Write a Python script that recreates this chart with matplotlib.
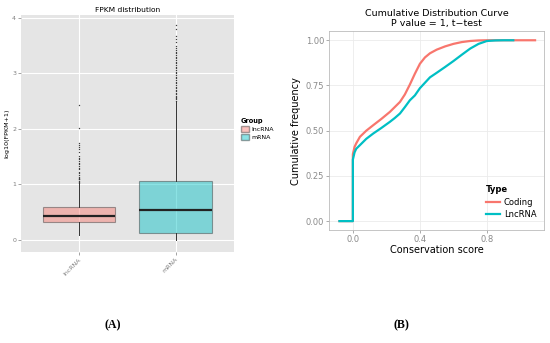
import matplotlib
matplotlib.use("Agg")
import matplotlib.pyplot as plt
from matplotlib.patches import Patch

# ---------------- data ----------------
groups = ["lncRNA", "mRNA"]
q1 = [0.33, 0.12]
med = [0.43, 0.53]
q3 = [0.60, 1.07]
whislo = [0.09, 0.00]
whishi = [1.02, 2.50]
lnc_outliers = [1.03, 1.05, 1.07, 1.09, 1.10, 1.12, 1.14, 1.17, 1.20, 1.23, 1.27,
                1.30, 1.33, 1.36, 1.39, 1.42, 1.45, 1.48, 1.52, 1.58, 1.63, 1.68,
                1.71, 1.74, 2.02, 2.43]
mrna_outliers = [2.51, 2.53, 2.55, 2.57, 2.60, 2.62, 2.65, 2.68, 2.70, 2.73, 2.76,
                 2.79, 2.82, 2.85, 2.88, 2.91, 2.94, 2.97, 3.00, 3.03, 3.06, 3.09,
                 3.12, 3.15, 3.18, 3.21, 3.24, 3.27, 3.30, 3.33, 3.36, 3.39, 3.42,
                 3.45, 3.50, 3.56, 3.62, 3.68, 3.80, 3.87]

coding_x = [-0.08, 0.0, 0.0, 0.01, 0.02, 0.042, 0.08, 0.121, 0.17, 0.221, 0.281,
            0.31, 0.34, 0.37, 0.40, 0.43, 0.46, 0.50, 0.55, 0.60, 0.65, 0.70,
            0.75, 0.80, 0.90, 1.00, 1.087]
coding_y = [0.0, 0.0, 0.37, 0.41, 0.43, 0.466, 0.50, 0.53, 0.565, 0.604, 0.659,
            0.70, 0.755, 0.815, 0.87, 0.905, 0.928, 0.948, 0.966, 0.98, 0.99, 0.996,
            0.999, 1.0, 1.0, 1.0, 1.0]
lnc_x = [-0.08, 0.0, 0.0, 0.01, 0.02, 0.042, 0.08, 0.121, 0.17, 0.221, 0.25,
         0.281, 0.31, 0.34, 0.37, 0.40, 0.43, 0.46, 0.50, 0.55, 0.60, 0.65,
         0.70, 0.75, 0.80, 0.85, 0.90, 0.957]
lnc_y = [0.0, 0.0, 0.34, 0.38, 0.40, 0.42, 0.455, 0.484, 0.515, 0.549, 0.57,
         0.595, 0.63, 0.668, 0.695, 0.735, 0.765, 0.795, 0.82, 0.852, 0.885, 0.92,
         0.954, 0.98, 0.996, 0.999, 1.0, 1.0]

red = "#F8766D"
teal = "#00BFC4"

fig = plt.figure(figsize=(5.5, 3.43), dpi=100)
fig.patch.set_facecolor("white")

# ---------------- panel A ----------------
ax1 = fig.add_axes([0.038, 0.265, 0.387, 0.691])
ax1.set_facecolor("#E5E5E5")
for s in ax1.spines.values():
    s.set_visible(False)
ax1.grid(True, color="white", linewidth=0.8)
ax1.set_axisbelow(True)

stats = []
for i, g in enumerate(groups):
    stats.append(dict(label=g, q1=q1[i], med=med[i], q3=q3[i],
                      whislo=whislo[i], whishi=whishi[i],
                      fliers=[lnc_outliers, mrna_outliers][i]))
bp = ax1.bxp(stats, positions=[1, 2], widths=0.75, patch_artist=True,
             showcaps=False,
             boxprops=dict(edgecolor="#333333", linewidth=0.8),
             whiskerprops=dict(color="#333333", linewidth=0.7),
             medianprops=dict(color="#222222", linewidth=1.6),
             flierprops=dict(marker="s", markersize=0.6, markerfacecolor="#333333",
                             markeredgecolor="#333333", markeredgewidth=0.3,
                             linestyle="none"))
for patch, c in zip(bp["boxes"], [red, teal]):
    patch.set_facecolor(c)
    patch.set_alpha(0.45)
    patch.set_edgecolor((0.2, 0.2, 0.2, 0.9))

ax1.set_xlim(0.4, 2.6)
ax1.set_ylim(-0.22, 4.05)
ax1.set_yticks([0, 1, 2, 3, 4])
ax1.set_yticklabels(["0", "1", "2", "3", "4"])
ax1.set_xticks([1, 2])
ax1.set_xticklabels(groups, rotation=45, ha="right", va="top", rotation_mode="anchor")
ax1.tick_params(axis="both", labelsize=4.5, colors="#7F7F7F", length=2, width=0.5, pad=1.5)
ax1.set_ylabel("log10(FPKM+1)", fontsize=4.6, labelpad=2)
ax1.set_title("FPKM distribution", fontsize=5.4, pad=2)

leg1 = ax1.legend(handles=[Patch(facecolor=red, alpha=0.45, edgecolor="#333333", label="lncRNA"),
                           Patch(facecolor=teal, alpha=0.45, edgecolor="#333333", label="mRNA")],
                  title="Group", loc="upper left", bbox_to_anchor=(1.02, 0.575),
                  frameon=False, fontsize=4.5, title_fontsize=4.8,
                  handlelength=1.4, handleheight=1.0, handletextpad=0.3, labelspacing=0.3,
                  borderaxespad=0)
leg1.get_title().set_fontweight("bold")
leg1._legend_box.align = "left"

# ---------------- panel B ----------------
ax2 = fig.add_axes([0.598, 0.329, 0.391, 0.580])
ax2.set_facecolor("white")
for s in ax2.spines.values():
    s.set_color("#BBBBBB")
    s.set_linewidth(0.6)
ax2.grid(True, color="#EBEBEB", linewidth=0.6)
ax2.set_axisbelow(True)
ax2.plot(coding_x, coding_y, color=red, linewidth=1.6, label="Coding", solid_joinstyle="round")
ax2.plot(lnc_x, lnc_y, color=teal, linewidth=1.6, label="LncRNA", solid_joinstyle="round")
ax2.set_xlim(-0.143, 1.14)
ax2.set_ylim(-0.05, 1.05)
ax2.set_xticks([0.0, 0.4, 0.8])
ax2.set_xticklabels(["0.0", "0.4", "0.8"])
ax2.set_yticks([0, 0.25, 0.5, 0.75, 1.0])
ax2.set_yticklabels(["0.00", "0.25", "0.50", "0.75", "1.00"])
ax2.tick_params(axis="both", labelsize=6, colors="#8A8A8A", length=2, width=0.5, pad=1.5)
ax2.set_xlabel("Conservation score", fontsize=7, labelpad=1)
ax2.set_ylabel("Cumulative frequency", fontsize=7, labelpad=3)
ax2.set_title("Cumulative Distribution Curve\nP value = 1, t\u2212test", fontsize=6.8, pad=4,
              linespacing=1.05)
leg2 = ax2.legend(title="Type", loc="lower right", bbox_to_anchor=(0.98, 0.04),
                  frameon=False, fontsize=6, title_fontsize=6,
                  handlelength=1.6, handletextpad=0.5, labelspacing=0.4, borderaxespad=0)
leg2.get_title().set_fontweight("bold")
leg2._legend_box.align = "left"

# panel labels
fig.text(113 / 550, 1 - 325 / 343, "(A)", fontsize=8.5, fontweight="bold",
         family="Liberation Serif", ha="center", va="center")
fig.text(401 / 550, 1 - 325 / 343, "(B)", fontsize=8.5, fontweight="bold",
         family="Liberation Serif", ha="center", va="center")

fig.savefig("out.png", dpi=100, facecolor="white")
